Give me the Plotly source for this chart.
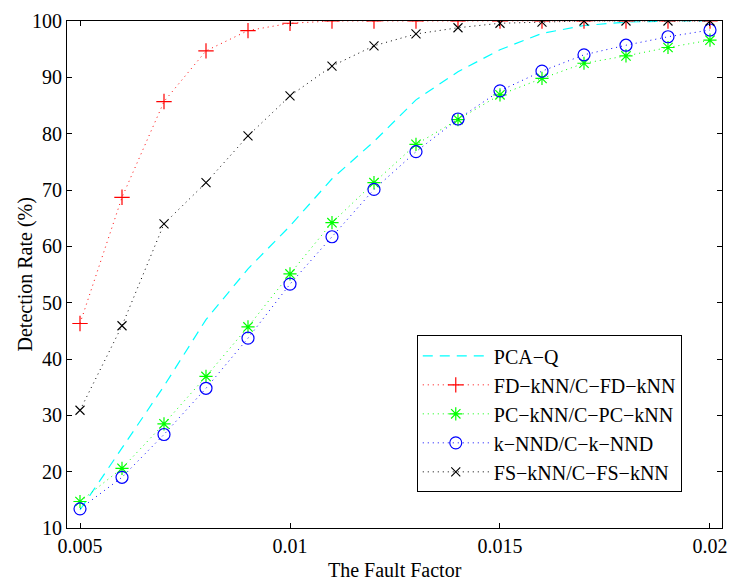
import plotly.graph_objects as go

fault_factor = [0.005, 0.006, 0.007, 0.008, 0.009, 0.010, 0.011, 0.012,
                0.013, 0.014, 0.015, 0.016, 0.017, 0.018, 0.019, 0.020]

pca_q = [13.2, 24.2, 35.2, 47.0, 56.0, 63.6, 72.0, 78.6,
         86.0, 91.0, 94.9, 97.8, 99.2, 99.8, 100.0, 100.0]
fd_knn = [46.3, 68.7, 85.7, 94.7, 98.3, 99.6, 100.0, 100.0,
          100.0, 100.0, 100.0, 100.0, 100.0, 100.0, 100.0, 100.0]
pc_knn = [14.7, 20.6, 28.5, 36.9, 45.7, 55.1, 64.2, 71.3,
          78.1, 82.5, 86.9, 89.8, 92.5, 93.8, 95.3, 96.6]
k_nnd = [13.4, 19.0, 26.6, 34.8, 43.7, 53.3, 61.7, 70.1,
         76.8, 82.6, 87.6, 91.1, 94.0, 95.7, 97.2, 98.4]
fs_knn = [30.9, 45.9, 64.0, 71.3, 79.6, 86.7, 92.0, 95.6,
          97.7, 98.8, 99.6, 99.8, 100.0, 100.0, 100.0, 100.0]

x_ticks = [0.005, 0.01, 0.015, 0.02]
x_tick_labels = ["0.005", "0.01", "0.015", "0.02"]
y_ticks = [10, 20, 30, 40, 50, 60, 70, 80, 90, 100]

FONT = "Liberation Serif, Times New Roman, serif"
FS = 20

fig = go.Figure()
fig.add_trace(go.Scatter(x=fault_factor, y=pca_q, mode="lines", name="PCA\u2212Q",
                         line=dict(color="rgb(0,255,255)", width=1.2, dash="10px,7px")))
fig.add_trace(go.Scatter(x=fault_factor, y=fd_knn, mode="lines+markers",
                         name="FD\u2212kNN/C\u2212FD\u2212kNN",
                         line=dict(color="rgb(255,0,0)", width=1, dash="1px,4px"),
                         marker=dict(symbol="cross-thin-open", size=11,
                                     line=dict(color="rgb(255,0,0)", width=1.2))))
fig.add_trace(go.Scatter(x=fault_factor, y=pc_knn, mode="lines+markers",
                         name="PC\u2212kNN/C\u2212PC\u2212kNN",
                         line=dict(color="rgb(0,255,0)", width=1, dash="1px,4px"),
                         marker=dict(symbol="asterisk-open", size=11,
                                     line=dict(color="rgb(0,255,0)", width=1.2))))
fig.add_trace(go.Scatter(x=fault_factor, y=k_nnd, mode="lines+markers",
                         name="k\u2212NND/C\u2212k\u2212NND",
                         line=dict(color="rgb(0,0,255)", width=1, dash="1px,4px"),
                         marker=dict(symbol="circle-open", size=12,
                                     line=dict(color="rgb(0,0,255)", width=1.2))))
fig.add_trace(go.Scatter(x=fault_factor, y=fs_knn, mode="lines+markers",
                         name="FS\u2212kNN/C\u2212FS\u2212kNN",
                         line=dict(color="rgb(0,0,0)", width=1, dash="1px,4px"),
                         marker=dict(symbol="x-thin-open", size=9,
                                     line=dict(color="rgb(0,0,0)", width=1.1))))

axis_common = dict(showgrid=False, zeroline=False, showline=True, linecolor="black",
                   linewidth=1.2, mirror="ticks", ticks="inside", ticklen=5,
                   tickcolor="black", tickwidth=1, automargin=False,
                   tickfont=dict(family=FONT, size=FS, color="black"))

fig.update_layout(
    width=729, height=583,
    margin=dict(l=67, r=7, t=21, b=55),
    paper_bgcolor="white", plot_bgcolor="white",
    font=dict(family=FONT, size=FS, color="black"),
    xaxis=dict(range=[0.0046905, 0.020286], tickvals=x_ticks, ticktext=x_tick_labels,
               **axis_common),
    yaxis=dict(range=[10, 100], tickvals=y_ticks, **axis_common),
    legend=dict(x=0.534, y=0.38, xanchor="left", yanchor="top",
                bgcolor="white", bordercolor="black", borderwidth=1,
                font=dict(family=FONT, size=FS, color="black"),
                itemwidth=66),
    showlegend=True,
    annotations=[
        dict(text="Detection Rate (%)", textangle=-90, showarrow=False,
             xref="paper", yref="paper", x=0, y=0.5,
             xanchor="center", yanchor="middle", xshift=-42,
             font=dict(family=FONT, size=FS, color="black")),
        dict(text="The Fault Factor", showarrow=False,
             xref="paper", yref="paper", x=0.5, y=0,
             xanchor="center", yanchor="middle", yshift=-42,
             font=dict(family=FONT, size=FS, color="black")),
    ],
)

fig.write_html("out.html")
